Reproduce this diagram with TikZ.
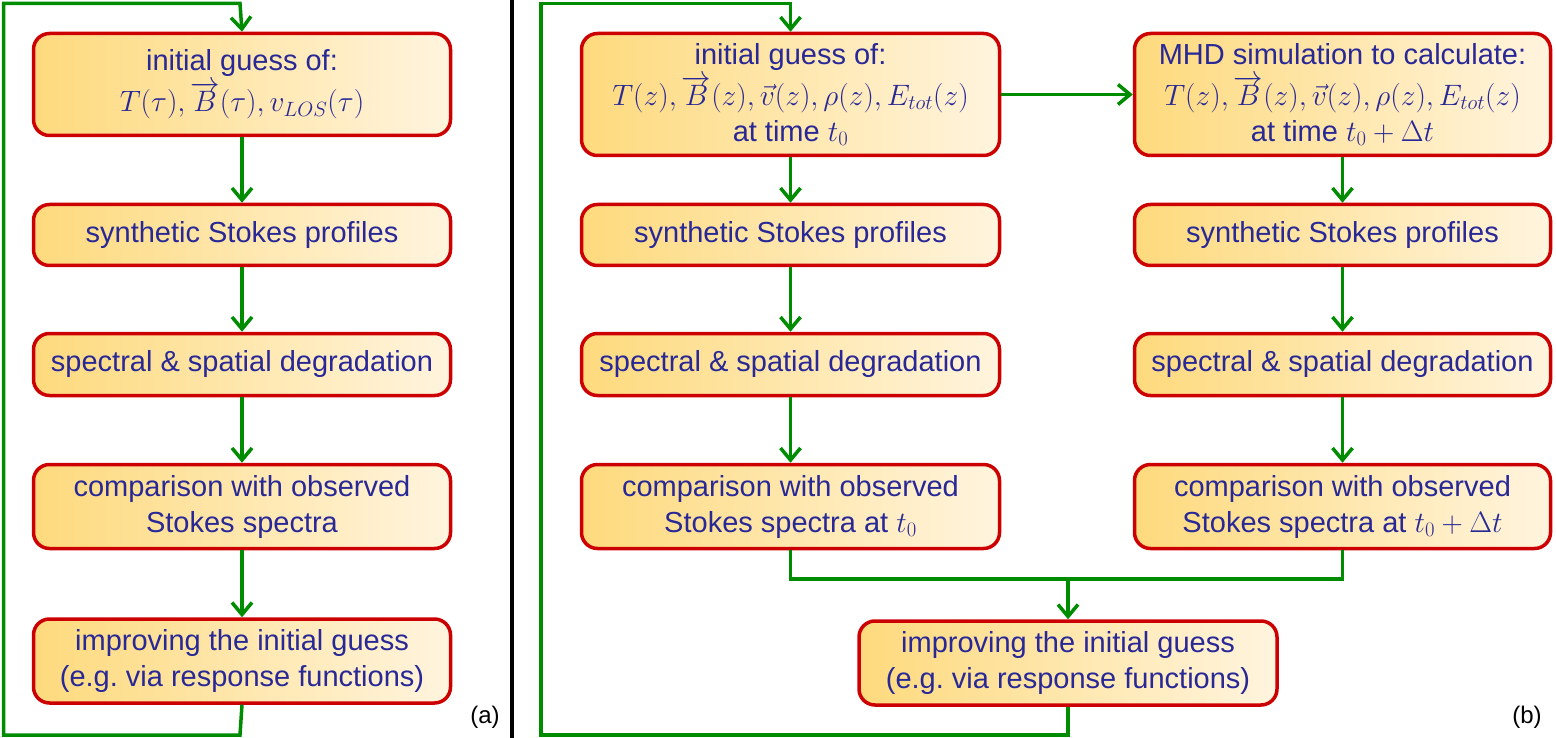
\RequirePackage{fix-cm}
\documentclass[tikz,border=0pt]{standalone}
\usepackage{fontspec}
\setmainfont{Liberation Sans}
\usetikzlibrary{arrows.meta}
\definecolor{txt}{RGB}{40,40,150}
\definecolor{bord}{RGB}{204,0,0}
\definecolor{grn}{RGB}{0,140,0}
\definecolor{lft}{RGB}{254,218,125}
\definecolor{rgt}{RGB}{255,244,222}
\newcommand\mymath[1]{{\fontsize{29.5}{36}\selectfont$#1$}}
\frenchspacing
\begin{document}
\begin{tikzpicture}[x=1pt,y=-1pt,
 box/.style={draw=bord, line width=3.5pt, rounded corners=16pt, left color=lft, right color=rgt,
   text=txt, align=center, font=\fontsize{29}{36}\selectfont, inner sep=0pt},
 flow/.style={draw=grn, line width=3.5pt, -{Straight Barb[length=12pt,width=20pt]}},
 link/.style={draw=grn, line width=3.5pt},
 lab/.style={font=\fontsize{24}{28}\selectfont, text=black, inner sep=0pt}]
\useasboundingbox (0,0) rectangle (1556,738);
% divider
\draw[line width=4.5pt, black] (512,0) -- (512,738);
% ---------- panel (a)
\node[box, minimum width=417pt, minimum height=102pt] (a1) at (242,84.5)
  {initial guess of:\\[5pt] \mymath{T(\tau),\overrightarrow{B}(\tau),v_{LOS}(\tau)}};
\node[box, minimum width=417pt, minimum height=61pt] (a2) at (242,235) {synthetic Stokes profiles};
\node[box, minimum width=417pt, minimum height=62pt] (a3) at (242,364.5) {spectral \& spatial degradation};
\node[box, minimum width=417pt, minimum height=84pt] (a4) at (242,506.5) {comparison with observed\\ Stokes spectra};
\node[box, minimum width=417pt, minimum height=84pt] (a5) at (242,661) {improving the initial guess\\ (e.g. via response functions)};
\draw[flow] (a1) -- (a2);
\draw[flow] (a2) -- (a3);
\draw[flow] (a3) -- (a4);
\draw[flow] (a4) -- (a5);
\coordinate (ab) at (240,735);
\coordinate (al) at (3.5,735);
\coordinate (at) at (3.5,3.5);
\coordinate (atr) at (240,3.5);
\draw[flow] (a5.south) -- (ab) -- (al) -- (at) -- (atr) -- (a1.north);
\node[lab] (la) at (485,717) {(a)};
% ---------- panel (b)
\node[box, minimum width=418pt, minimum height=122pt] (b1) at (790.5,94.5)
  {initial guess of:\\[5pt] \mymath{T(z),\overrightarrow{B}(z),\vec{v}(z),\rho(z),E_{tot}(z)}\\ at time \mymath{t_0}};
\node[box, minimum width=416pt, minimum height=122pt] (c1) at (1342.5,94.5)
  {MHD simulation to calculate:\\[5pt] \mymath{T(z),\overrightarrow{B}(z),\vec{v}(z),\rho(z),E_{tot}(z)}\\ at time \mymath{t_0+\Delta t}};
\node[box, minimum width=418pt, minimum height=61pt] (b2) at (790.5,235) {synthetic Stokes profiles};
\node[box, minimum width=416pt, minimum height=61pt] (c2) at (1342.5,235) {synthetic Stokes profiles};
\node[box, minimum width=418pt, minimum height=62pt] (b3) at (790.5,364.5) {spectral \& spatial degradation};
\node[box, minimum width=416pt, minimum height=62pt] (c3) at (1342.5,364.5) {spectral \& spatial degradation};
\node[box, minimum width=418pt, minimum height=84pt] (b4) at (790.5,506.5) {comparison with observed\\ Stokes spectra at \mymath{t_0}};
\node[box, minimum width=416pt, minimum height=84pt] (c4) at (1342.5,506.5) {comparison with observed\\ Stokes spectra at \mymath{t_0+\Delta t}};
\node[box, minimum width=418pt, minimum height=84pt] (b5) at (1068,663) {improving the initial guess\\ (e.g. via response functions)};
\draw[flow] (b1) -- (c1);
\draw[flow] (b1) -- (b2);
\draw[flow] (c1) -- (c2);
\draw[flow] (b2) -- (b3);
\draw[flow] (c2) -- (c3);
\draw[flow] (b3) -- (b4);
\draw[flow] (c3) -- (c4);
\coordinate (jl) at (790.5,579);
\coordinate (jr) at (1342.5,579);
\coordinate (jm) at (1068,579);
\draw[link] (b4.south) -- (jl) -- (jr) -- (c4.south);
\draw[flow] (jm) -- (b5.north);
\coordinate (bb) at (1068,735);
\coordinate (bl) at (541,735);
\coordinate (bt) at (541,3.5);
\coordinate (btr) at (790.5,3.5);
\draw[flow] (b5.south) -- (bb) -- (bl) -- (bt) -- (btr) -- (b1.north);
\node[lab] (lb) at (1527,717) {(b)};
\end{tikzpicture}
\end{document}
